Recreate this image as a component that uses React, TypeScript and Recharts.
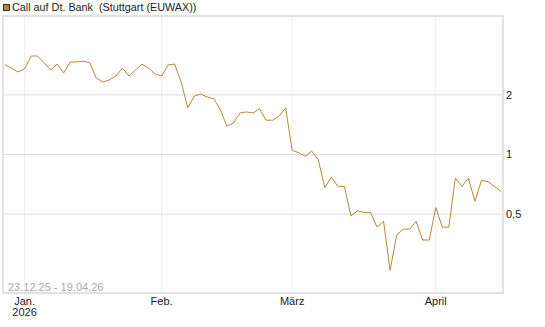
import React from 'react';
import { LineChart, Line, XAxis, YAxis, CartesianGrid, ReferenceArea } from 'recharts';

// trading days 23.12.25 - 17.04.26
const dates = [
  '23.12.25', '29.12.25', '30.12.25',
  '02.01.26', '05.01.26', '06.01.26', '07.01.26', '08.01.26', '09.01.26', '12.01.26', '13.01.26', '14.01.26',
  '15.01.26', '16.01.26', '19.01.26', '20.01.26', '21.01.26', '22.01.26', '23.01.26', '26.01.26', '27.01.26',
  '28.01.26', '29.01.26', '30.01.26',
  '02.02.26', '03.02.26', '04.02.26', '05.02.26', '06.02.26', '09.02.26', '10.02.26', '11.02.26', '12.02.26',
  '13.02.26', '16.02.26', '17.02.26', '18.02.26', '19.02.26', '20.02.26', '23.02.26', '24.02.26', '25.02.26',
  '26.02.26', '27.02.26',
  '02.03.26', '03.03.26', '04.03.26', '05.03.26', '06.03.26', '09.03.26', '10.03.26', '11.03.26', '12.03.26',
  '13.03.26', '16.03.26', '17.03.26', '18.03.26', '19.03.26', '20.03.26', '23.03.26', '24.03.26', '25.03.26',
  '26.03.26', '27.03.26', '30.03.26', '31.03.26',
  '01.04.26', '02.04.26', '07.04.26', '08.04.26', '09.04.26', '10.04.26', '13.04.26', '14.04.26', '15.04.26',
  '16.04.26', '17.04.26',
];

const prices = [
  2.83, 2.73, 2.61,
  2.70, 3.14, 3.14, 2.90, 2.67, 2.86, 2.58, 2.93, 2.93, 2.96, 2.90, 2.43, 2.32, 2.38, 2.49, 2.73, 2.49, 2.67,
  2.86, 2.73, 2.55,
  2.49, 2.83, 2.86, 2.32, 1.72, 1.97, 2.02, 1.95, 1.91, 1.68, 1.39, 1.44, 1.62, 1.64, 1.62, 1.70, 1.49, 1.49,
  1.56, 1.72,
  1.05, 1.02, 0.98, 1.04, 0.94, 0.68, 0.77, 0.69, 0.69, 0.49, 0.52, 0.51, 0.51, 0.43, 0.46, 0.26, 0.39, 0.42,
  0.42, 0.46, 0.37, 0.37,
  0.54, 0.43, 0.43, 0.76, 0.69, 0.76, 0.58, 0.74, 0.73, 0.69, 0.65,
];

const monthTicks = [3, 24, 44, 66];
const monthLabels = ['Jan.|2026', 'Feb.', 'März', 'April'];
const priceTicks = [0.5, 1, 2];

const data = prices.map((p, i) => ({ i, date: dates[i], price: p }));

const FONT = '"Liberation Sans", Arial, sans-serif';
const LINE = '#B8863B';

function MonthTick(props: any) {
  const { x, y, payload } = props;
  const idx = monthTicks.indexOf(payload.value);
  const lines = (monthLabels[idx] || '').split('|');
  return (
    <text x={x} y={y + 4} textAnchor="middle" fontSize={11} fill="#222" fontFamily={FONT}>
      {lines.map((l, k) => (
        <tspan key={k} x={x} dy={k === 0 ? 0 : 11}>{l}</tspan>
      ))}
    </text>
  );
}

export default function App() {
  return (
    <div style={{ position: 'relative', width: 545, height: 327, fontFamily: FONT, background: '#fff' }}>
      <style>{`body{margin:0}`}</style>
      {/* legend */}
      <div style={{ position: 'absolute', left: 3, top: 1, display: 'flex', alignItems: 'center', fontSize: 10.8, color: '#222' }}>
        <span style={{ width: 5, height: 5, background: LINE, border: '1px solid #333', marginRight: 2 }} />
        <span>Call auf Dt. Bank&nbsp;&nbsp;(Stuttgart (EUWAX))</span>
      </div>
      <div style={{ position: 'absolute', left: 8, top: 281, fontSize: 11, color: '#a9a9a9' }}>
        23.12.25 - 19.04.26
      </div>
      <LineChart width={545} height={327} data={data} margin={{ top: 16, right: 0, bottom: 0, left: 3 }}>
        <CartesianGrid horizontal={false} stroke="#eeeeee" />
        <CartesianGrid vertical={false} stroke="#dddddd" />
        <ReferenceArea x1={-0.3} x2={76.3} y1={0.2} y2={5} fill="none" stroke="#dddddd" strokeWidth={1.5} />
        <XAxis
          dataKey="i"
          type="number"
          domain={[-0.3, 76.3]}
          ticks={monthTicks}
          axisLine={false}
          tickLine={false}
          height={34}
          tick={<MonthTick />}
          allowDataOverflow
        />
        <YAxis
          orientation="right"
          type="number"
          scale="log"
          domain={[0.2, 5]}
          ticks={priceTicks}
          allowDataOverflow
          axisLine={false}
          tickLine={false}
          tickSize={2}
          tickMargin={1}
          width={42}
          tick={{ fontSize: 11, fill: '#222', fontFamily: FONT, textAnchor: 'start' }}
          tickFormatter={(v: number) => String(v).replace('.', ',')}
        />
        <Line
          type="linear"
          dataKey="price"
          stroke={LINE}
          strokeWidth={1}
          dot={false}
          isAnimationActive={false}
        />
      </LineChart>
    </div>
  );
}
